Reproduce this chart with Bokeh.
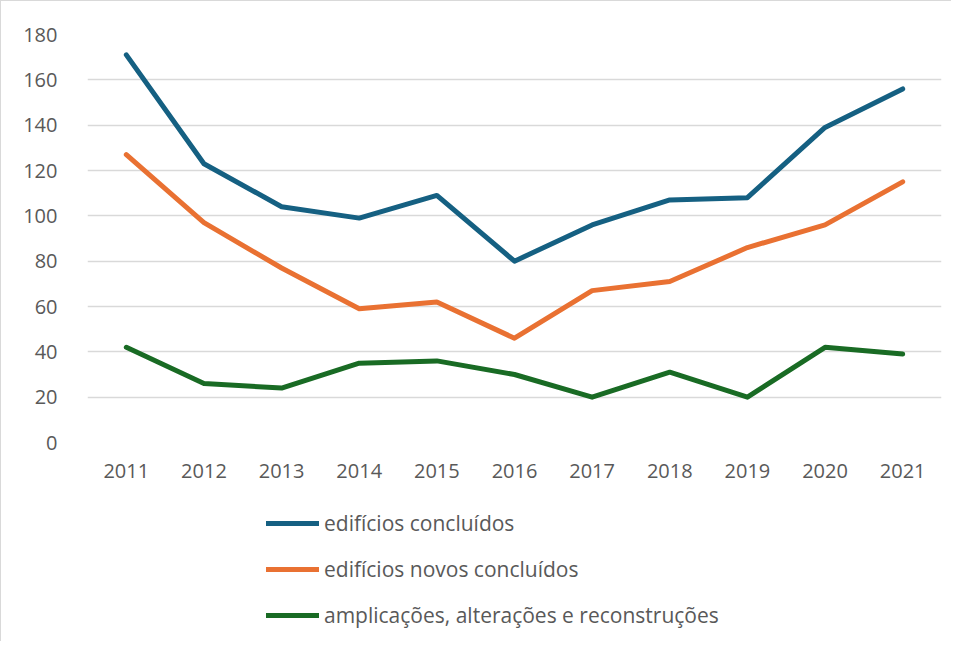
from bokeh.plotting import figure
from bokeh.layouts import column
from bokeh.models import Range1d, FixedTicker, Legend, LegendItem, ColumnDataSource
from bokeh.embed import file_html
from bokeh.resources import INLINE

years = [2011, 2012, 2013, 2014, 2015, 2016, 2017, 2018, 2019, 2020, 2021]
edificios_concluidos = [171, 123, 104, 99, 109, 80, 96, 107, 108, 139, 156]
edificios_novos = [127, 97, 77, 59, 62, 46, 67, 71, 86, 96, 115]
ampliacoes = [42, 26, 24, 35, 36, 30, 20, 31, 20, 42, 39]

series_names = ["edifícios concluídos", "edifícios novos concluídos",
                "amplicações, alterações e reconstruções"]
series_colors = ["#156082", "#E97132", "#196B24"]
y_ticks = [0, 20, 40, 60, 80, 100, 120, 140, 160, 180]
series_values = [edificios_concluidos, edificios_novos, ampliacoes]

FONT = "Open Sans"
TXT = "#595959"

p = figure(width=950, height=495, output_backend="svg", toolbar_location=None,
           x_range=Range1d(2010.5, 2021.5), y_range=Range1d(0, 180),
           min_border_left=86, min_border_right=10, min_border_top=33,
           min_border_bottom=54)
p.outline_line_color = None
p.background_fill_color = "white"
p.border_fill_color = "white"

for vals, c in zip(series_values, series_colors):
    src = ColumnDataSource(dict(x=years, y=vals))
    p.line("x", "y", source=src, line_color=c, line_width=5,
           line_cap="round", line_join="round")

p.xaxis.ticker = FixedTicker(ticks=years)
p.yaxis.ticker = FixedTicker(ticks=y_ticks)
p.xgrid.grid_line_color = None
p.ygrid.grid_line_color = "#D9D9D9"
p.ygrid.grid_line_width = 1.3
for ax in (p.xaxis, p.yaxis):
    ax.axis_line_color = None
    ax.major_tick_line_color = None
    ax.minor_tick_line_color = None
    ax.major_label_text_font = FONT
    ax.major_label_text_font_size = "20px"
    ax.major_label_text_color = TXT
p.xaxis.major_label_standoff = 15
p.yaxis.major_label_standoff = 24

# legend panel (lines here lie outside its view; only the legend shows)
lg = figure(width=950, height=145, output_backend="svg", toolbar_location=None,
            x_range=Range1d(0, 1), y_range=Range1d(0, 1),
            min_border_left=0, min_border_right=0, min_border_top=0, min_border_bottom=0)
lg.outline_line_color = None
lg.xaxis.visible = False
lg.yaxis.visible = False
lg.xgrid.visible = False
lg.ygrid.visible = False
lg.border_fill_color = "white"
lg_renderers = []
for vals, c in zip(series_values, series_colors):
    src = ColumnDataSource(dict(x=years, y=vals))
    lg_renderers.append(lg.line("x", "y", source=src, line_color=c, line_width=5,
                                line_cap="round"))

legend = Legend(items=[LegendItem(label=n, renderers=[r]) for n, r in zip(series_names, lg_renderers)],
                location=(179, 12), orientation="vertical",
                glyph_width=53, glyph_height=26, label_height=26, label_standoff=5,
                spacing=18, padding=0, margin=0,
                border_line_color=None, background_fill_alpha=0,
                label_text_font=FONT, label_text_font_size="21px", label_text_color=TXT)
lg.add_layout(legend, "center")

layout = column(p, lg, spacing=0)
layout.styles = {"border-left": "1px solid #d9d9d9", "border-top": "1px solid #d9d9d9"}

open("out.html", "w").write(file_html(layout, INLINE))
